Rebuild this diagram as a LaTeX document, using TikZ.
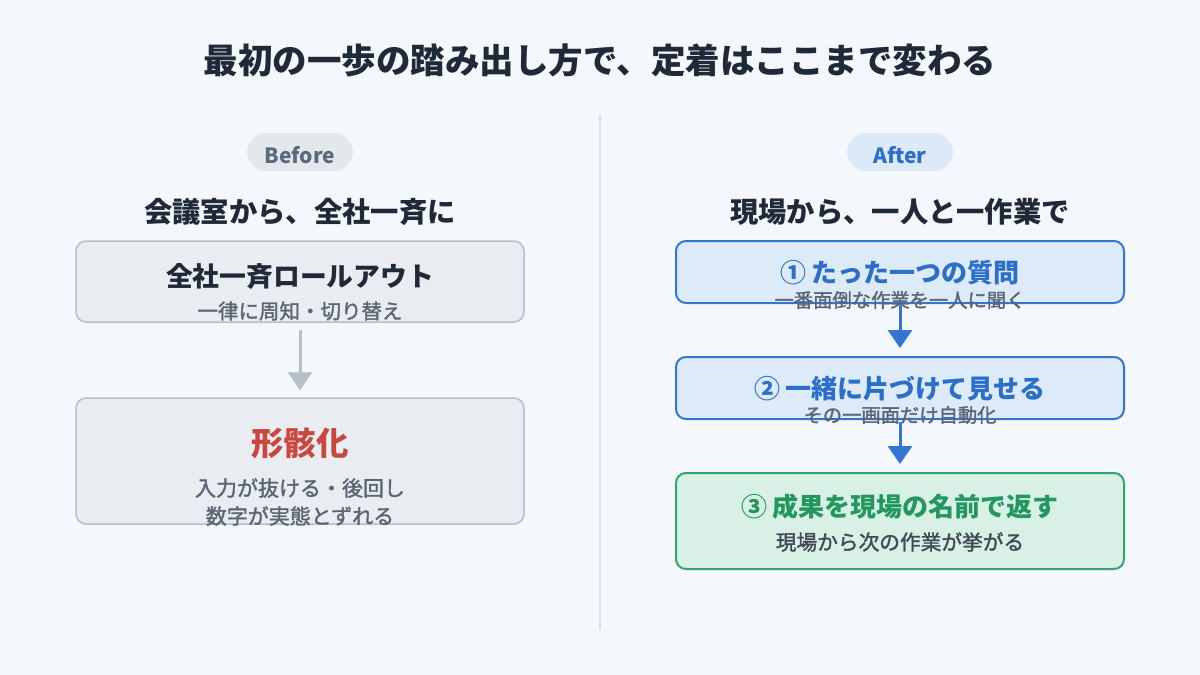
\documentclass[tikz,border=0pt]{standalone}
\usepackage{fontspec}
\setmainfont{Noto Sans CJK JP}
\newfontfamily\medfont[FakeBold=1.6]{Noto Sans CJK JP}
\usetikzlibrary{arrows.meta}
\definecolor{bg}{HTML}{F4F7FB}
\definecolor{ink}{HTML}{1F2937}
\definecolor{subgray}{HTML}{5B6675}
\definecolor{pillgray}{HTML}{E4E8ED}
\definecolor{pillgraytxt}{HTML}{5A6A7C}
\definecolor{boxgray}{HTML}{E9ECF0}
\definecolor{bordergray}{HTML}{B7BFC9}
\definecolor{redtxt}{HTML}{C9473D}
\definecolor{bluetxt}{HTML}{2C6FCB}
\definecolor{boxblue}{HTML}{DDEAF8}
\definecolor{borderblue}{HTML}{3275D2}
\definecolor{pillblue}{HTML}{DCE9F8}
\definecolor{greentxt}{HTML}{22975F}
\definecolor{boxgreen}{HTML}{D8F0E5}
\definecolor{bordergreen}{HTML}{2FA56F}
\definecolor{divider}{HTML}{DCE1E7}
\tikzset{
  txt/.style={inner sep=0pt, anchor=center},
  pill/.style={rounded corners=19pt, minimum width=106pt, minimum height=38pt, inner sep=0pt},
  pilltxt/.style={txt, font=\fontsize{21}{21}\selectfont\bfseries},
  graybox/.style={draw=bordergray, fill=boxgray, line width=1.5pt, rounded corners=10pt, minimum width=448pt, inner sep=0pt},
  bluebox/.style={draw=borderblue, fill=boxblue, line width=2pt, rounded corners=10pt, minimum width=448pt, minimum height=62pt, inner sep=0pt},
  greenbox/.style={draw=bordergreen, fill=boxgreen, line width=2pt, rounded corners=10pt, minimum width=448pt, minimum height=96pt, inner sep=0pt},
  boxtitle/.style={txt, font=\fontsize{26}{26}\selectfont\bfseries},
  subtxt/.style={txt, text=subgray, font=\fontsize{20.5}{20.5}\medfont},
  heading/.style={txt, text=ink, font=\fontsize{28.3}{28.3}\selectfont\bfseries},
  grayarrow/.style={draw=bordergray, line width=3pt, -{Triangle[width=24pt,length=18pt]}},
  bluearrow/.style={draw=borderblue, line width=3pt, -{Triangle[width=24pt,length=18pt]}},
}
\begin{document}
\begin{tikzpicture}[x=1pt,y=-1pt]
\fill[bg] (0,0) rectangle (1200,675);
\useasboundingbox (0,0) rectangle (1200,675);

\node[txt, text=ink, font=\fontsize{34.5}{34.5}\selectfont\bfseries] (title) at (600,60) {最初の一歩の踏み出し方で、定着はここまで変わる};

\coordinate (dtop) at (600,115);
\coordinate (dbot) at (600,630);
\draw[divider, line width=1.5pt] (dtop) -- (dbot);

% Before side
\node[pill, fill=pillgray] (before) at (300,152) {};
\node[pilltxt, text=pillgraytxt] (beforet) at (300,155) {Before};
\node[heading] (lhead) at (300,212) {会議室から、全社一斉に};

\node[graybox, minimum height=81pt] (b1) at (300,281.5) {};
\node[boxtitle, text=ink, font=\fontsize{26.8}{26.8}\selectfont\bfseries] (b1t) at (300,276) {全社一斉ロールアウト};
\node[subtxt] (b1s) at (300,311) {一律に周知・切り替え};

\node[graybox, minimum height=126pt] (b2) at (300,461) {};
\node[txt, text=redtxt, font=\fontsize{32.5}{32.5}\selectfont\bfseries] (b2t) at (300,443) {形骸化};
\node[subtxt, font=\fontsize{21}{21}\medfont] (b2s1) at (300,488) {入力が抜ける・後回し};
\node[subtxt, font=\fontsize{21}{21}\medfont] (b2s2) at (300,516) {数字が実態とずれる};

\draw[grayarrow, shorten <=7pt, shorten >=7pt] (b1.south) -- (b2.north);

% After side
\node[pill, fill=pillblue] (after) at (900,152) {};
\node[pilltxt, text=bluetxt] (aftert) at (900,155) {After};
\node[heading] (rhead) at (900,212) {現場から、一人と一作業で};

\node[bluebox] (a1) at (900,272) {};
\node[boxtitle, text=bluetxt] (a1t) at (900,273) {① たった一つの質問};
\node[subtxt, font=\fontsize{19.3}{19.3}\medfont] (a1s) at (900,300) {一番面倒な作業を一人に聞く};

\node[bluebox] (a2) at (900,388) {};
\node[boxtitle, text=bluetxt] (a2t) at (900,389) {② 一緒に片づけて見せる};
\node[subtxt, font=\fontsize{19.3}{19.3}\medfont] (a2s) at (900,415) {その一画面だけ自動化};

\node[greenbox] (a3) at (900,521) {};
\node[boxtitle, text=greentxt] (a3t) at (900,507) {③ 成果を現場の名前で返す};
\node[subtxt, text=ink!85, font=\fontsize{20.7}{20.7}\medfont] (a3s) at (900,542) {現場から次の作業が挙がる};

\draw[bluearrow, shorten <=2pt, shorten >=8pt] (a1.south) -- (a2.north);
\draw[bluearrow, shorten <=2pt, shorten >=8pt] (a2.south) -- (a3.north);
\end{tikzpicture}
\end{document}
